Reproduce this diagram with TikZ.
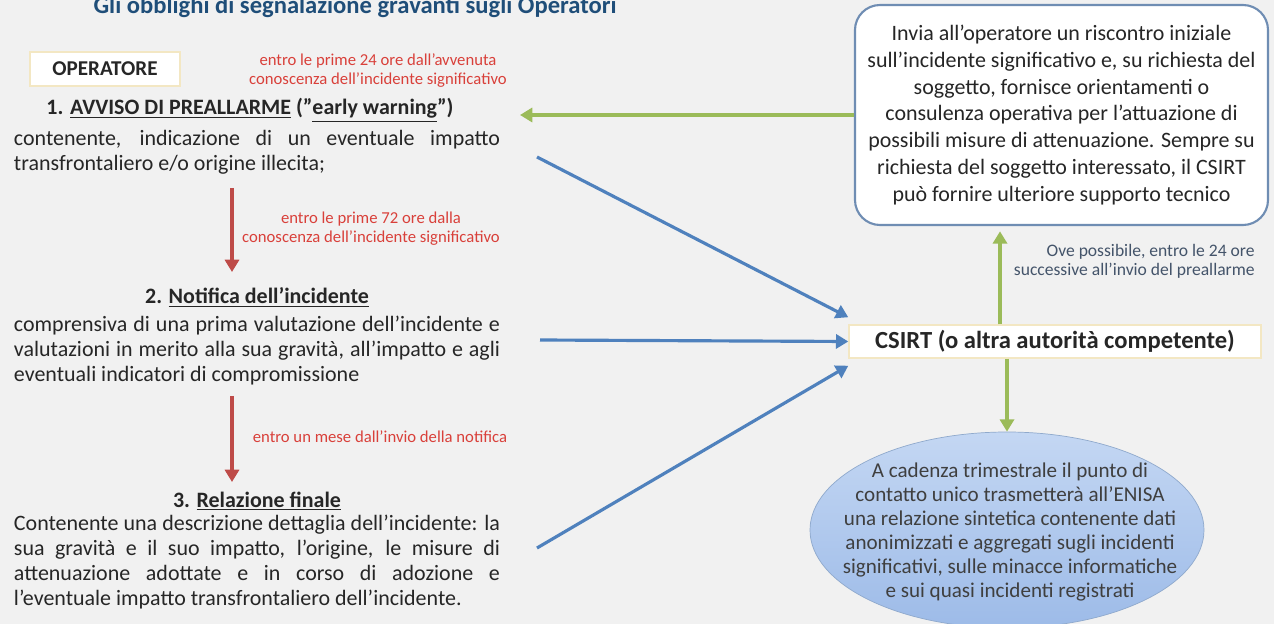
\documentclass[tikz,border=0pt]{standalone}
\usepackage{fontspec}
\setmainfont{Carlito}
\usetikzlibrary{arrows.meta,shapes.geometric}

\definecolor{bggray}{HTML}{F1F1F1}
\definecolor{titleblue}{HTML}{1F4E79}
\definecolor{txtgray}{HTML}{262626}
\definecolor{redline}{HTML}{BE4B48}
\definecolor{redtxt}{HTML}{D9403A}
\definecolor{blueline}{HTML}{4F81BD}
\definecolor{greenline}{HTML}{9BBB59}
\definecolor{boxedge}{HTML}{6F8DB3}
\definecolor{yelledge}{HTML}{F3E7C3}
\definecolor{notegray}{HTML}{44546A}
\definecolor{ellblue}{HTML}{9DBBE8}
\definecolor{ellhi}{HTML}{C4D7F3}
\definecolor{elledge}{HTML}{8FA9CC}
\definecolor{elltxt}{HTML}{3F3F3F}

\tikzset{
  body/.style={anchor=north, text width=9.72cm, align=justify, inner sep=0pt, text=txtgray, font=\fontsize{12.5}{14.2}\selectfont},
  head/.style={anchor=base, inner sep=0pt, text=txtgray, font=\bfseries\fontsize{12.5}{14.2}\selectfont},
  rednote/.style={align=center, inner sep=0pt, text=redtxt, font=\fontsize{9.5}{10.8}\selectfont},
  labelbox/.style={draw=yelledge, fill=white, line width=0.8pt, inner sep=0pt, text=txtgray},
  redarrow/.style={draw=redline, line width=2pt, -{Triangle[length=7pt,width=8pt]}},
  bluearrow/.style={draw=blueline, line width=1.8pt, -{Triangle[length=7pt,width=8pt]}},
  greenarrow/.style={draw=greenline, line width=2pt, -{Triangle[length=7pt,width=8pt]}}
}

\begin{document}
\begin{tikzpicture}
\useasboundingbox (0,0) rectangle (25.48,-12.48);
\clip (0,0) rectangle (25.48,-12.48);
\fill[bggray] (0,0) rectangle (25.48,-12.48);

\node[anchor=base, inner sep=0pt, text=titleblue, font=\bfseries\fontsize{14}{16}\selectfont] (title) at (7.1,-0.28) {Gli obblighi di segnalazione gravanti sugli Operatori};

\node[labelbox, minimum width=3cm, minimum height=0.68cm, font=\bfseries\fontsize{12}{14}\selectfont] (oper) at (2.1,-1.38) {OPERATORE};
\node[rednote] (t24) at (7.56,-1.41) {entro le prime 24 ore dall’avvenuta\\conoscenza dell’incidente significativo};

\node[head] (h1) at (5.0,-2.30) {1. \underline{AVVISO DI PREALLARME} (\char34\underline{early warning}\char34)};
\node[body] (p1) at (5.14,-2.60) {contenente, indicazione di un eventuale impatto\linebreak transfrontaliero e/o origine illecita;};

\coordinate (r1a) at (4.64,-3.76);
\coordinate (r1b) at (4.64,-5.44);
\draw[redarrow] (r1a) -- (r1b);
\node[rednote] (t72) at (7.42,-4.58) {entro le prime 72 ore dalla\\conoscenza dell’incidente significativo};

\node[head] (h2) at (5.14,-6.08) {2. \underline{Notifica dell’incidente}};
\node[body] (p2) at (5.14,-6.32) {comprensiva di una prima valutazione dell’incidente e\linebreak valutazioni in merito alla sua gravità, all’impatto e agli\linebreak eventuali indicatori di compromissione};

\coordinate (r2a) at (4.64,-7.92);
\coordinate (r2b) at (4.64,-9.64);
\draw[redarrow] (r2a) -- (r2b);
\node[rednote] (tmese) at (7.6,-8.74) {entro un mese dall’invio della notifica};

\node[head] (h3) at (5.14,-10.14) {3. \underline{Relazione finale}};
\node[body] (p3) at (5.14,-10.30) {Contenente una descrizione dettaglia dell’incidente: la\linebreak sua gravità e il suo impatto, l’origine, le misure di\linebreak attenuazione adottate e in corso di adozione e\linebreak l’eventuale impatto transfrontaliero dell’incidente.};

\node[draw=boxedge, fill=white, rounded corners=0.5cm, line width=1.2pt, minimum width=8.26cm, minimum height=4.4cm, align=center, text=txtgray, font=\fontsize{12.5}{15.2}\selectfont] (info) at (21.23,-2.30) {Invia all’operatore un riscontro iniziale\\sull'incidente significativo e, su richiesta del\\soggetto, fornisce orientamenti o\\consulenza operativa per l'attuazione di\\possibili misure di attenuazione. Sempre su\\richiesta del soggetto interessato, il CSIRT\\può fornire ulteriore supporto tecnico};

\coordinate (g1) at (10.4,-2.30);
\draw[greenarrow] (info.west) -- (g1);

\node[labelbox, minimum width=8.24cm, minimum height=0.66cm, font=\bfseries\fontsize{14}{16}\selectfont] (csirt) at (21.1,-6.83) {CSIRT (o altra autorità competente)};

\coordinate (gx) at (20,0);
\draw[greenarrow, shorten >=3pt] (csirt.north -| gx) -- (info.south -| gx);
\node[anchor=east, align=right, inner sep=0pt, text=notegray, font=\fontsize{10}{10.8}\selectfont] (ove) at (25.1,-5.23) {Ove possibile, entro le 24 ore\\successive all’invio del preallarme};

\node[ellipse, draw=elledge, top color=ellhi, bottom color=ellblue, minimum width=7.88cm, minimum height=3.92cm, inner sep=0pt] (enisa) at (20.14,-10.6) {};
\node[align=center, inner sep=0pt, text=elltxt, font=\fontsize{12}{13.7}\selectfont] (enisatxt) at (20.2,-10.64) {A cadenza trimestrale il punto di\\contatto unico trasmetterà all’ENISA\\una relazione sintetica contenente dati\\anonimizzati e aggregati sugli incidenti\\significativi, sulle minacce informatiche\\e sui quasi incidenti registrati};
\draw[greenarrow] (csirt.south -| enisa.north) -- (enisa.north);

\coordinate (b1) at (10.74,-3.14);
\coordinate (b2) at (10.8,-6.8);
\coordinate (b3) at (10.74,-10.96);
\draw[bluearrow] (b1) -- ([yshift=4pt]csirt.north west);
\draw[bluearrow] (b2) -- (csirt.west);
\draw[bluearrow] (b3) -- ([yshift=-4pt]csirt.south west);
\end{tikzpicture}
\end{document}
